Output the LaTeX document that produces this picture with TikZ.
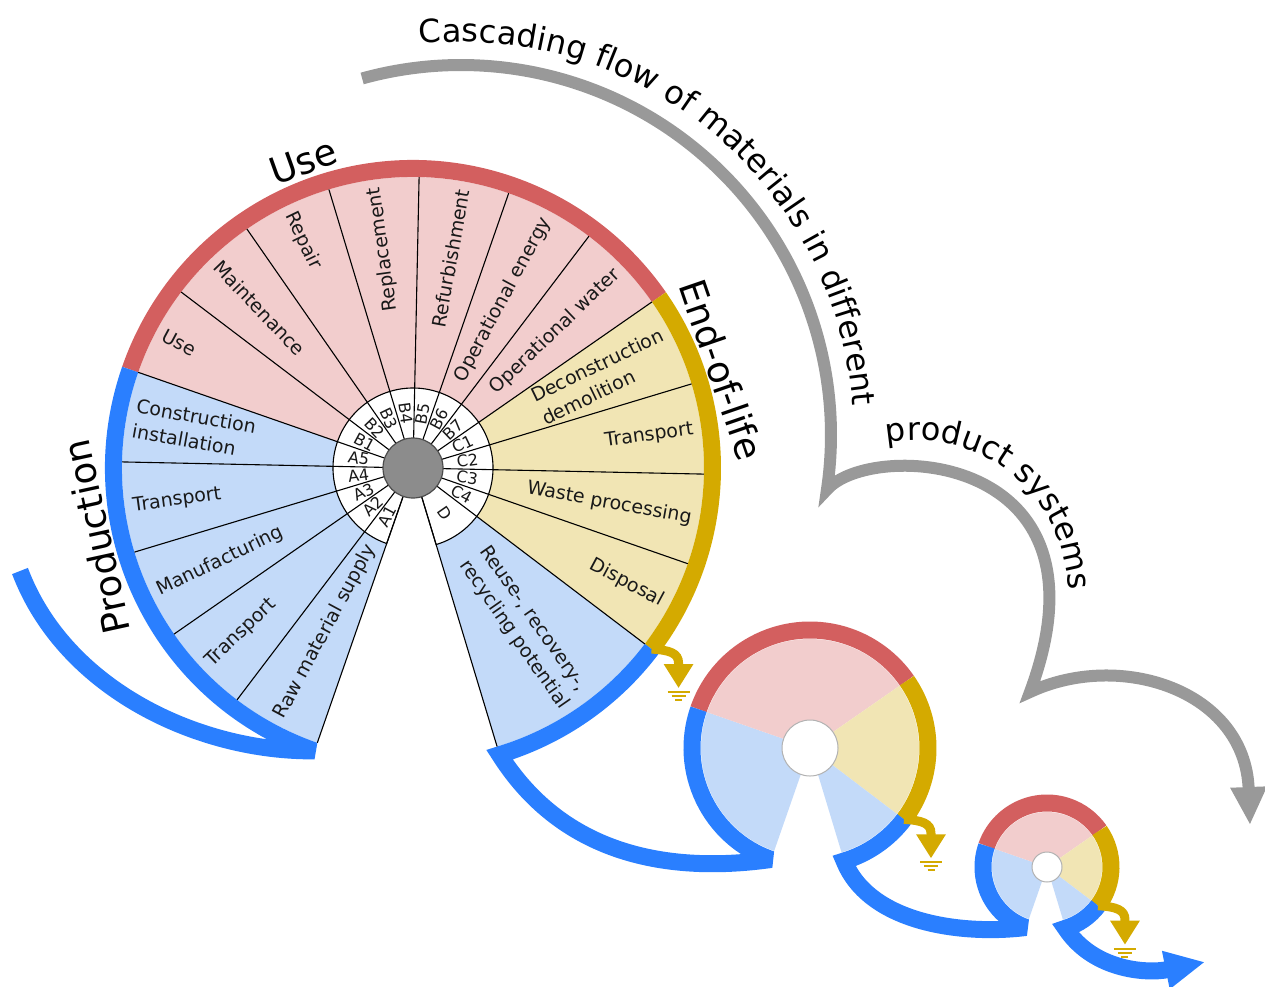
\documentclass[tikz,border=0pt]{standalone}
\usepackage{fontspec}
\setmainfont{DejaVu Sans}
\usetikzlibrary{arrows.meta,calc,decorations.text}

\definecolor{flowBlue}{HTML}{2A7FFF}
\definecolor{prodFill}{HTML}{C3DAF9}
\definecolor{useBand}{HTML}{D35F5F}
\definecolor{useFill}{HTML}{F2CDCD}
\definecolor{eolBand}{HTML}{D4AA00}
\definecolor{eolFill}{HTML}{F1E5B4}
\definecolor{cascadeGray}{HTML}{999999}
\definecolor{hubGray}{HTML}{8C8C8C}

\newcommand{\sectorfont}{\fontsize{19pt}{25pt}\selectfont}
\newcommand{\codefont}{\fontsize{16pt}{16pt}\selectfont}
\newcommand{\phasefont}{\fontsize{37pt}{37pt}\selectfont}
\newcommand{\cascadefont}{\fontsize{32pt}{32pt}\selectfont}

\tikzset{
  phaseBand/.style={line width=17pt, line cap=butt},
  flowBand/.style={flowBlue, line width=17pt, line join=miter, miter limit=2.5},
  sectorLine/.style={black, line width=1.1pt},
  sectorLabel/.style={font=\sectorfont, align=left, inner sep=0pt, text=black!90},
  codeLabel/.style={font=\codefont, inner sep=0pt, text=black!90},
  phaseLabel/.style={font=\phasefont, inner sep=0pt},
  cascadeArrow/.style={cascadeGray, line width=12pt, line join=miter,
    -{Triangle[length=38pt,width=34pt]}},
  wasteArrow/.style={eolBand, line width=9pt, -{Triangle[length=24pt,width=28pt]}},
  groundLine/.style={eolBand, line width=2.2pt}
}

\begin{document}
\begin{tikzpicture}[x=1pt,y=1pt]
  \useasboundingbox (0,0) rectangle (1265,-986);

  \coordinate (w1) at (413,-468);
  \coordinate (w2) at (810,-748);
  \coordinate (w3) at (1047,-867);

  % phase sectors of the three wheels
  \foreach \w/\rf in {w1/291, w2/109, w3/55} {
    \fill[prodFill] (\w) -- ++(160.8:\rf)
      arc[start angle=160.8, end angle=250.8, radius=\rf] -- cycle;
    \fill[useFill] (\w) -- ++(34.8:\rf)
      arc[start angle=34.8, end angle=160.8, radius=\rf] -- cycle;
    \fill[eolFill] (\w) -- ++(-37.2:\rf)
      arc[start angle=-37.2, end angle=34.8, radius=\rf] -- cycle;
    \fill[prodFill] (\w) -- ++(-73.2:\rf)
      arc[start angle=-73.2, end angle=-37.2, radius=\rf] -- cycle;
  }

  % outer bands
  \foreach \w/\rb in {w1/299.5, w2/118, w3/64} {
    \draw[phaseBand, useBand] (\w) ++(160.8:\rb)
      arc[start angle=160.8, end angle=34.8, radius=\rb];
    \draw[phaseBand, eolBand] (\w) ++(34.8:\rb)
      arc[start angle=34.8, end angle=-37.2, radius=\rb];
  }

  % material flow from wheel to wheel
  \coordinate (inflow) at (20,-571);
  \coordinate (outflow) at (1205,-962);
  \draw[flowBand] (inflow) .. controls (65,-690) and (200,-752) ..
    ($(w1)+(250.8:299.5)$) arc[start angle=250.8, end angle=160.8, radius=299.5];
  \draw[flowBand] ($(w1)+(-37.2:299.5)$)
    arc[start angle=-37.2, end angle=-73.2, radius=299.5]
    .. controls (560,-850) and (660,-875) .. ($(w2)+(250.8:118)$)
    arc[start angle=250.8, end angle=160.8, radius=118];
  \draw[flowBand] ($(w2)+(-37.2:118)$)
    arc[start angle=-37.2, end angle=-73.2, radius=118]
    .. controls (870,-925) and (966,-935) .. ($(w3)+(250.8:64)$)
    arc[start angle=250.8, end angle=160.8, radius=64];
  \draw[flowBand, -{Triangle[length=40pt,width=36pt]}] ($(w3)+(-37.2:64)$)
    arc[start angle=-37.2, end angle=-73.2, radius=64]
    .. controls (1093,-970) and (1146,-974) .. (outflow);

  % waste leaving each end-of-life band
  \foreach \w/\rb [count=\i] in {w1/299.5, w2/118, w3/64} {
    \coordinate (eolEnd\i) at ($(\w)+(-37.2:\rb)$);
    \draw[wasteArrow] (eolEnd\i) .. controls ($(eolEnd\i)+(18,-1)$)
      and ($(eolEnd\i)+(27,-4)$) .. ($(eolEnd\i)+(27,-14)$)
      -- ($(eolEnd\i)+(27,-39)$);
    \draw[groundLine] ($(eolEnd\i)+(16,-43)$) -- ($(eolEnd\i)+(38,-43)$);
    \draw[groundLine] ($(eolEnd\i)+(20,-47)$) -- ($(eolEnd\i)+(34,-47)$);
    \draw[groundLine] ($(eolEnd\i)+(23.5,-51)$) -- ($(eolEnd\i)+(30.5,-51)$);
  }

  % hubs of the small wheels
  \filldraw[fill=white, draw=black!30, line width=1pt] (w2) circle[radius=28];
  \filldraw[fill=white, draw=black!30, line width=1pt] (w3) circle[radius=15];

  % module ring of the main wheel
  \filldraw[fill=white, draw=black, line width=1.1pt] (w1) -- ++(-73.2:80)
    arc[start angle=-73.2, end angle=250.8, radius=80] -- cycle;
  \foreach \k [evaluate=\k as \a using 18*\k-1.2] in {-4,-2,-1,...,14}
    \draw[sectorLine] (w1) ++(\a:30) -- ++(\a:261);
  \filldraw[fill=hubGray, draw=black!70, line width=1.2pt] (w1) circle[radius=30];

  \foreach \c/\a in {A1/241.8, A2/223.8, A3/205.8, A4/187.8, A5/169.8,
      B1/151.8, B2/133.8, B3/115.8, B4/97.8}
    \node[codeLabel, rotate=\a-180] (code-\c) at ($(w1)+(\a:55)$) {\c};
  \foreach \c/\a in {B5/79.8, B6/61.8, B7/43.8, C1/25.8, C2/7.8,
      C3/-10.2, C4/-28.2, D/-55.2}
    \node[codeLabel, rotate=\a] (code-\c) at ($(w1)+(\a:55)$) {\c};

  % module names
  \foreach \s/\a/\t in {A1/241.8/Raw material supply, A2/223.8/Transport,
      A3/205.8/Manufacturing, A4/187.8/Transport,
      A5/169.8/Construction\\installation, B1/151.8/Use,
      B2/133.8/Maintenance, B3/115.8/Repair}
    \node[sectorLabel, anchor=west, rotate=\a-180] (lab-\s)
      at ($(w1)+(\a:283)$) {\t};
  \foreach \s/\a/\t in {B4/97.8/Replacement, B5/79.8/Refurbishment,
      B6/61.8/Operational energy, B7/43.8/Operational water,
      C1/25.8/Deconstruction\\demolition, C2/7.8/Transport,
      C3/-10.2/Waste processing, C4/-28.2/Disposal,
      D/-55.2/{Reuse-, recovery-,\\recycling potential}}
    \node[sectorLabel, anchor=east, rotate=\a] (lab-\s)
      at ($(w1)+(\a:283)$) {\t};

  % life cycle phases
  \node[phaseLabel, rotate=19.7] (usePhase) at ($(w1)+(109.7:326)$) {Use};
  \node[phaseLabel, rotate=102.3] (prodPhase) at ($(w1)+(192.3:324)$) {Production};
  \node[phaseLabel, rotate=-71] (eolPhase) at ($(w1)+(17.7:324)$) {End-of-life};

  % cascade over product systems
  \coordinate (cascadeStart) at ($(461,-435)+(105.5:370)$);
  \coordinate (cascadeEnd) at (1250,-825);
  \draw[cascadeArrow] (cascadeStart)
    arc[start angle=105.5, end angle=-8.5, radius=370]
    .. controls (870,-440) and (1120,-450) .. (1030,-692)
    .. controls (1120,-650) and (1245,-690) .. (cascadeEnd);
  \path[decorate, decoration={text along path,
      text={|\cascadefont|Cascading flow of materials in different}}]
    ($(461,-435)+(96:393)$) arc[start angle=96, end angle=0, radius=393];
  \path[decorate, decoration={text along path,
      text={|\cascadefont|product systems}}]
    ($(916,-592)+(101:152)$) arc[start angle=101, end angle=-5, radius=152];
\end{tikzpicture}
\end{document}
